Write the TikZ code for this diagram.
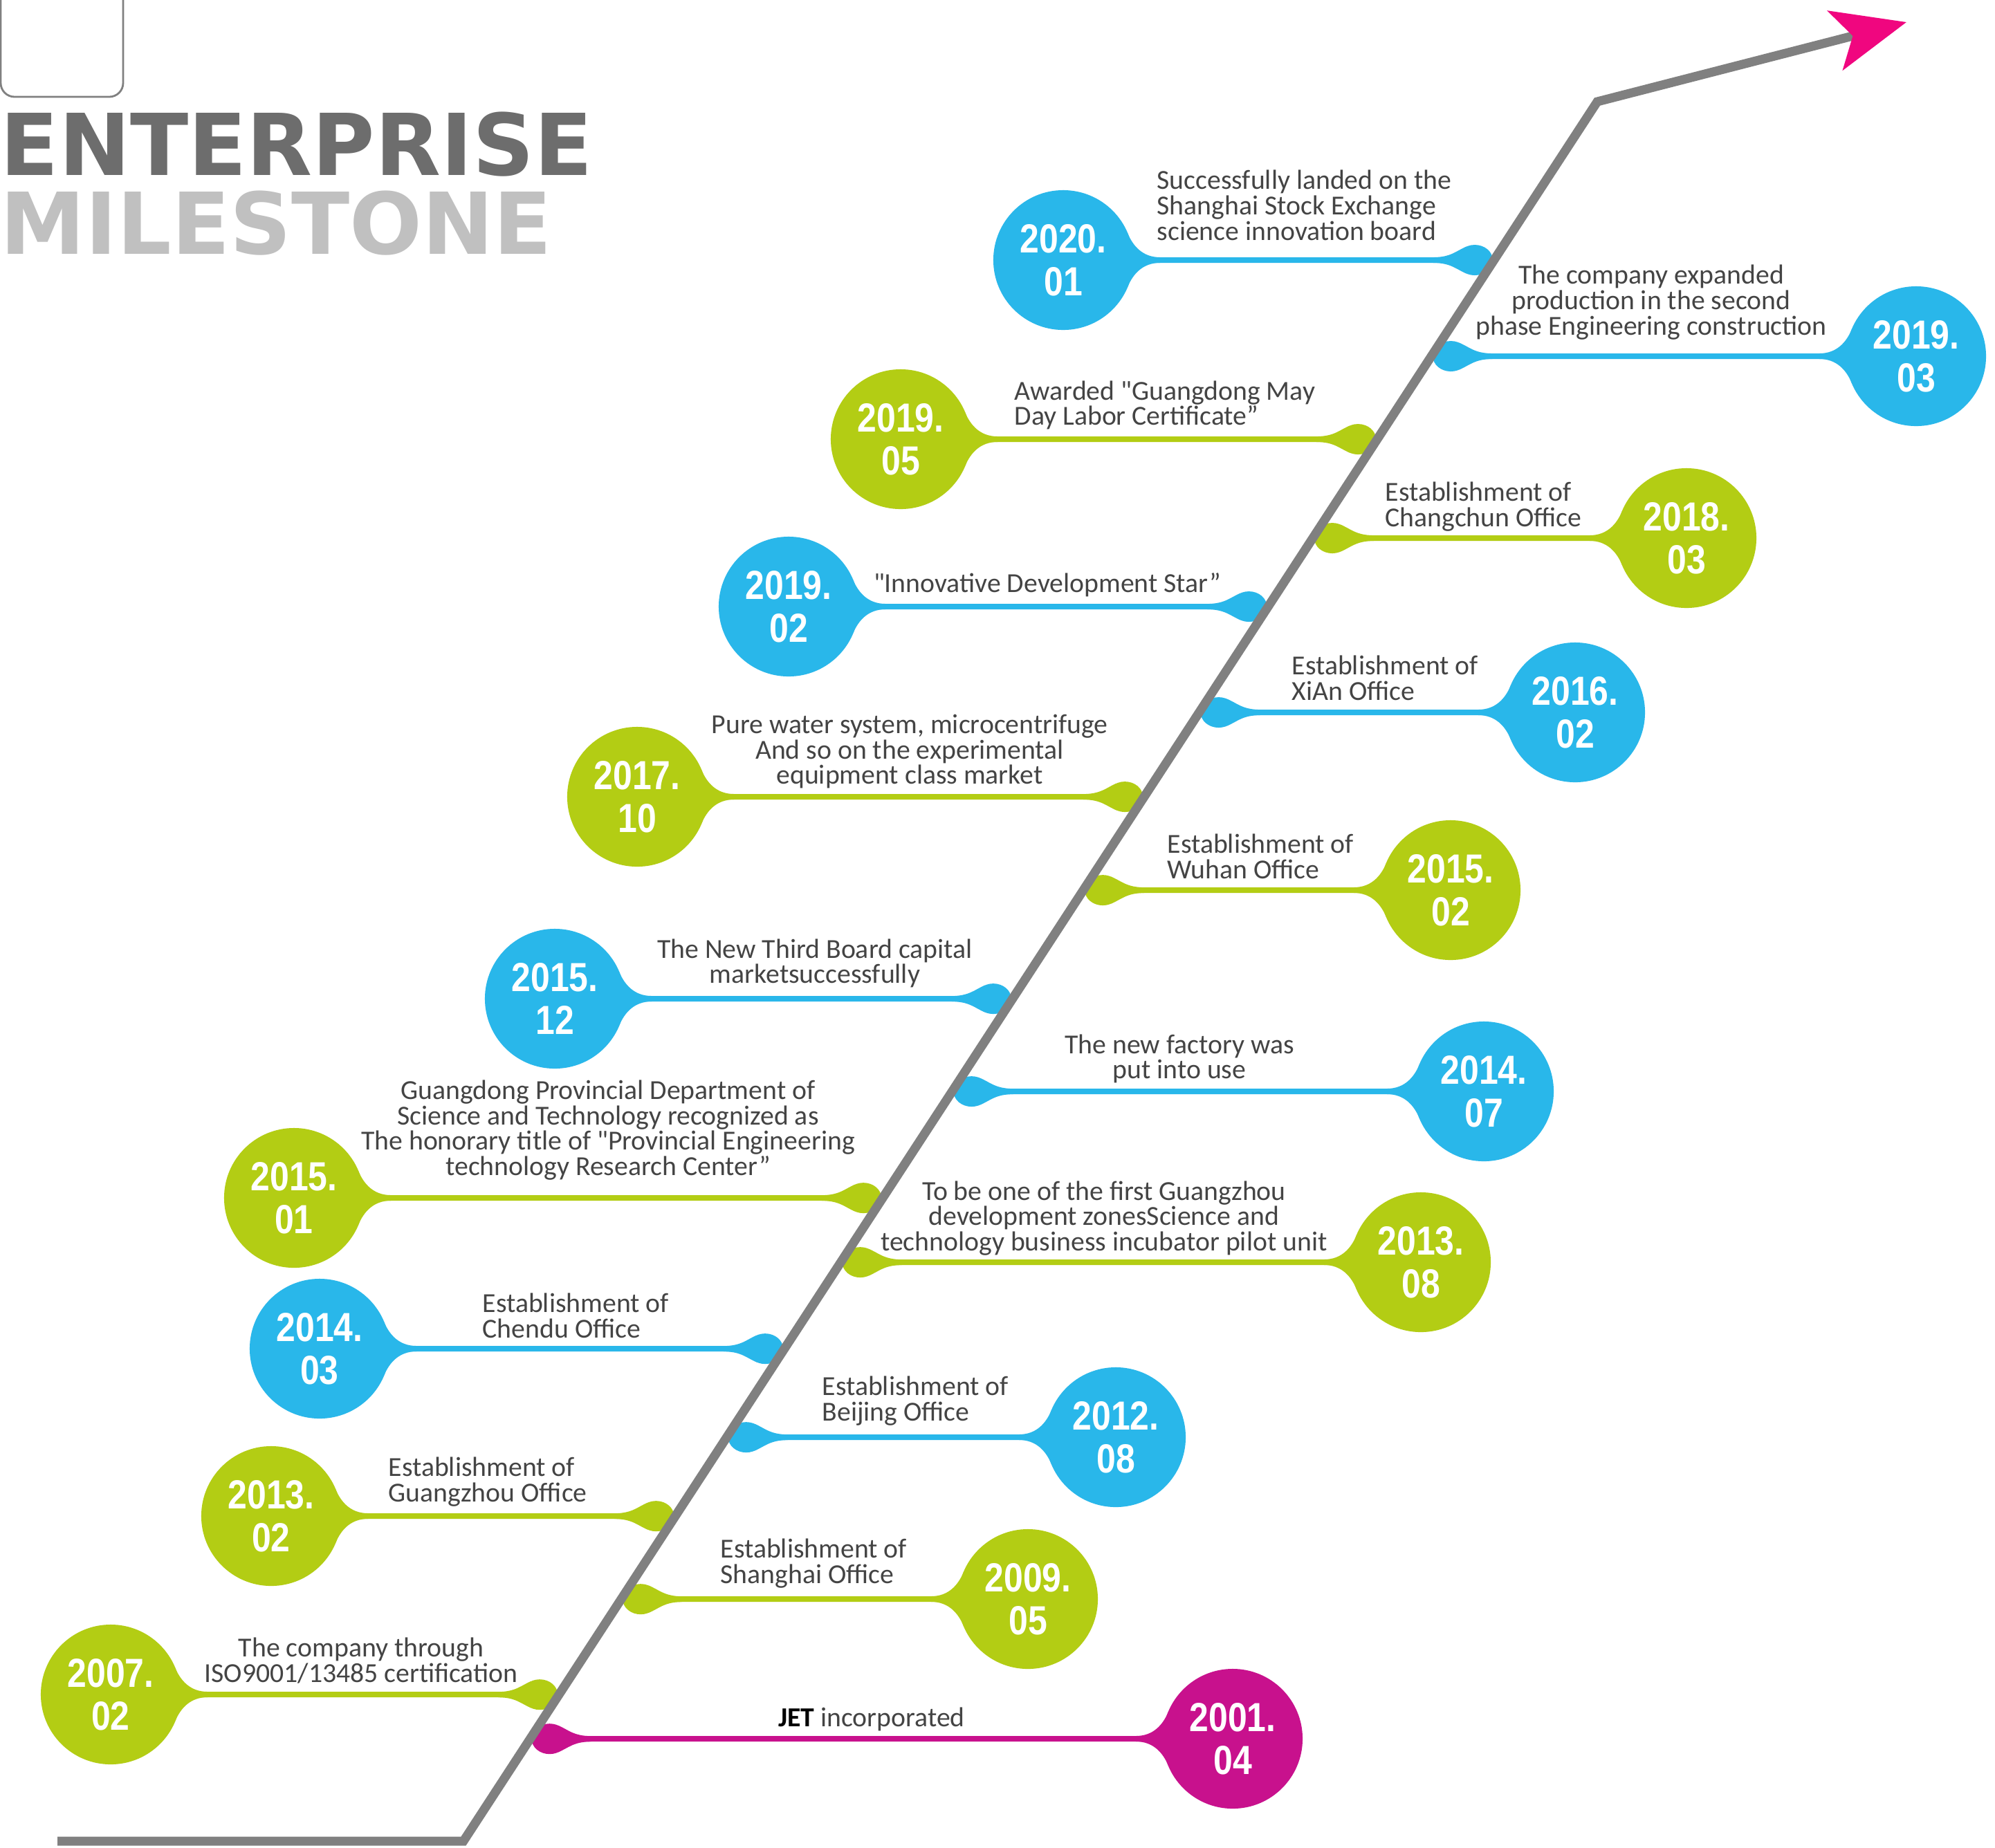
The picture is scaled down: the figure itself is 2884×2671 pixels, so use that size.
\documentclass[tikz,border=0pt]{standalone}
\usepackage{fontspec}
\setmainfont{Carlito}[Ligatures=TeXOff]
\newfontfamily\datefont[FakeStretch=0.85]{Liberation Sans}
\newfontfamily\titlefont{DejaVu Sans}
\usetikzlibrary{arrows.meta}
\definecolor{jetblue}{HTML}{29B7EA}
\definecolor{jetgreen}{HTML}{B3CD14}
\definecolor{jetmagenta}{HTML}{C8118D}
\definecolor{arrowpink}{HTML}{F0067F}
\definecolor{linegray}{HTML}{808080}
\definecolor{notegray}{HTML}{444444}
\definecolor{titledark}{HTML}{6D6D6D}
\definecolor{titlelight}{HTML}{C0C0C0}
\tikzset{
	datecircle/.style={circle, minimum size=2.02cm, inner sep=0pt, text=white, align=center,
		font=\datefont\bfseries\fontsize{16.7}{17.6}\selectfont},
	note/.style={inner sep=0pt, text=notegray, font=\fontsize{11.3}{10.45}\selectfont},
	link/.style={line width=0.08cm},
	mainline/.style={draw=linegray, line width=0.13cm,
		-{Stealth[length=1.06cm, width=0.88cm, inset=0.26cm, color=arrowpink]}},
	titletext/.style={inner sep=0pt, font=\titlefont\bfseries\fontsize{35.1}{36}\selectfont},
	flare/.pic={\path[pic actions] (93,39) .. controls (101,20) and (115,4) .. (140,4)
		-- (140,-4) .. controls (115,-4) and (101,-20) .. (93,-39) -- cycle;},
	blob/.pic={\path[pic actions] (-28,0) ellipse [x radius=26, y radius=22];
		\path[pic actions] (-88,4) .. controls (-62,4) and (-54,14) .. (-40,19.5)
		-- (-40,-19.5) .. controls (-54,-14) and (-62,-4) .. (-88,-4) -- cycle;}
}
% #1 name, #2 colour, #3 centre, #4 0 = left of the line, 180 = right of it, #5 date
\newcommand{\milestone}[5]{
	\node[datecircle, fill=#2] (#1) at (#3) {#5};
	\coordinate (#1-end) at (intersection of lo--hi and #1.west--#1.east);
	\draw[link, #2] (#1) -- (#1-end);
	\pic[fill=#2, rotate=#4] at (#1) {flare};
	\pic[fill=#2, rotate=#4] at (#1-end) {blob};
}

\begin{document}
\begin{tikzpicture}[x=0.01cm, y=-0.01cm]
	\useasboundingbox (0,0) rectangle (2884,2671);
	\fill[white] (0,0) rectangle (2884,2671);
	\draw[linegray, line width=0.8pt, rounded corners=0.2cm] (1,-30) rectangle (178,140);
	\node[titletext, text=titledark, anchor=base west] (enterprise) at (0,253) {ENTERPRISE};
	\node[titletext, text=titlelight, anchor=base west] (milestone) at (0,367) {MILESTONE};

	\coordinate (start) at (83,2662);
	\coordinate (lo) at (670,2662);
	\coordinate (hi) at (2309,147);
	\coordinate (tip) at (2756,32);

	\milestone{m2020a}{jetblue}{1537,376}{0}{2020.\\01}
	\milestone{m2019c}{jetblue}{2770,515}{180}{2019.\\03}
	\milestone{m2019e}{jetgreen}{1302,635}{0}{2019.\\05}
	\milestone{m2018c}{jetgreen}{2438,778}{180}{2018.\\03}
	\milestone{m2019b}{jetblue}{1140,877}{0}{2019.\\02}
	\milestone{m2016b}{jetblue}{2277,1030}{180}{2016.\\02}
	\milestone{m2017j}{jetgreen}{921,1152}{0}{2017.\\10}
	\milestone{m2015b}{jetgreen}{2097,1287}{180}{2015.\\02}
	\milestone{m2015l}{jetblue}{802,1444}{0}{2015.\\12}
	\milestone{m2014g}{jetblue}{2145,1578}{180}{2014.\\07}
	\milestone{m2015a}{jetgreen}{425,1732}{0}{2015.\\01}
	\milestone{m2013h}{jetgreen}{2054,1825}{180}{2013.\\08}
	\milestone{m2014c}{jetblue}{462,1950}{0}{2014.\\03}
	\milestone{m2012h}{jetblue}{1613,2078}{180}{2012.\\08}
	\milestone{m2013b}{jetgreen}{392,2192}{0}{2013.\\02}
	\milestone{m2009e}{jetgreen}{1486,2312}{180}{2009.\\05}
	\milestone{m2007b}{jetgreen}{160,2450}{0}{2007.\\02}
	\milestone{m2001d}{jetmagenta}{1782,2514}{180}{2001.\\04}

	\draw[mainline] (start) -- (lo) -- (hi) -- (tip);

	\node[note, align=left, anchor=south west] (t2020a) at (1672,348) {Successfully landed on the\\Shanghai Stock Exchange\\science innovation board};
	\node[note, align=center, anchor=south] (t2019c) at (2387,492) {The company expanded\\production in the second\\phase Engineering construction};
	\node[note, align=left, anchor=south west] (t2019e) at (1466,622) {Awarded "Guangdong May\\Day Labor Certificate”};
	\node[note, align=left, anchor=south west] (t2018c) at (2002,769) {Establishment of\\Changchun Office};
	\node[note, align=center, anchor=south] (t2019b) at (1514,864) {"Innovative Development Star”};
	\node[note, align=left, anchor=south west] (t2016b) at (1867,1013) {Establishment of\\XiAn Office};
	\node[note, align=center, anchor=south] (t2017j) at (1315,1141) {Pure water system, microcentrifuge\\And so on the experimental\\equipment class market};
	\node[note, align=left, anchor=south west] (t2015b) at (1687,1271) {Establishment of\\Wuhan Office};
	\node[note, align=center, anchor=south] (t2015l) at (1178,1429) {The New Third Board capital\\marketsuccessfully};
	\node[note, align=center, anchor=south] (t2014g) at (1705,1567) {The new factory was\\put into use};
	\node[note, align=center, anchor=south] (t2015a) at (879,1707) {Guangdong Provincial Department of\\Science and Technology recognized as\\The honorary title of "Provincial Engineering\\technology Research Center”};
	\node[note, align=center, anchor=south] (t2013h) at (1596,1816) {To be one of the first Guangzhou\\development zonesScience and\\technology business incubator pilot unit};
	\node[note, align=left, anchor=south west] (t2014c) at (697,1935) {Establishment of\\Chendu Office};
	\node[note, align=left, anchor=south west] (t2012h) at (1188,2062) {Establishment of\\Beijing Office};
	\node[note, align=left, anchor=south west] (t2013b) at (561,2179) {Establishment of\\Guangzhou Office};
	\node[note, align=left, anchor=south west] (t2009e) at (1041,2297) {Establishment of\\Shanghai Office};
	\node[note, align=center, anchor=south] (t2007b) at (522,2435) {The company through\\ISO9001/13485 certification};
	\node[note, align=center, anchor=south] (t2001d) at (1260,2504) {\textbf{\color{black}JET} incorporated};
\end{tikzpicture}
\end{document}
